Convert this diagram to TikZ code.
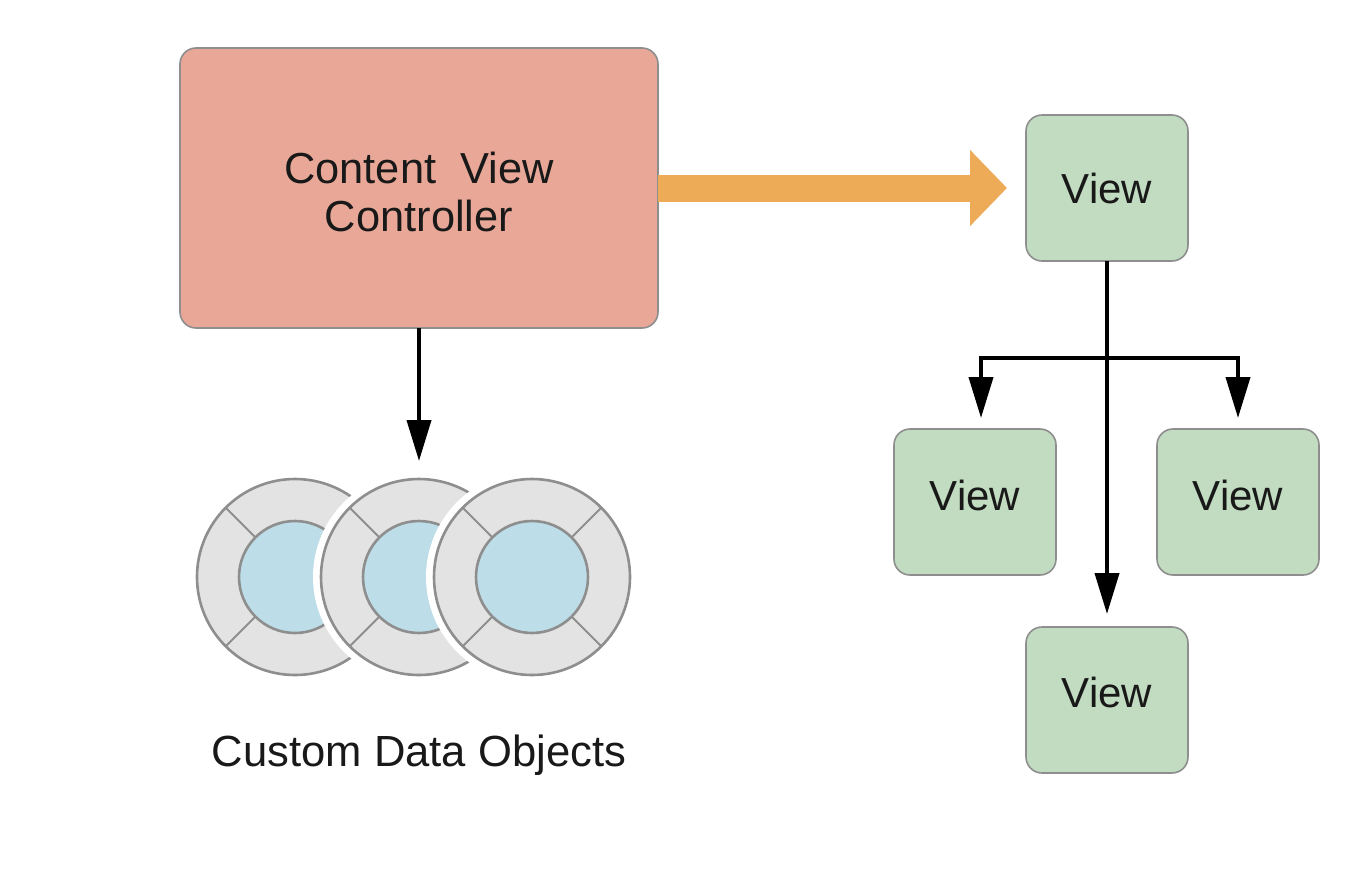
\documentclass[tikz,border=0pt]{standalone}
\usepackage{fontspec}
\setmainfont{Liberation Sans}
\usetikzlibrary{arrows.meta}
\definecolor{ctrlfill}{HTML}{E9A897}
\definecolor{viewfill}{HTML}{C1DCC0}
\definecolor{ringfill}{HTML}{E3E3E3}
\definecolor{corefill}{HTML}{BDDDE9}
\definecolor{edgegray}{HTML}{8E8E8E}
\definecolor{flowcolor}{HTML}{EDAB57}
\tikzset{
	box/.style={draw=edgegray, line width=.8pt, rounded corners=8pt, inner sep=0pt, outer sep=0pt, align=center, text=black!90, font=\fontsize{21}{24}\selectfont},
	viewbox/.style={box, fill=viewfill, minimum width=81pt, minimum height=73pt},
	ring/.style={circle, draw=edgegray, line width=1.3pt, fill=ringfill, minimum size=98pt, inner sep=0pt, outer sep=0pt},
	core/.style={circle, draw=edgegray, line width=1.3pt, fill=corefill, minimum size=56pt, inner sep=0pt, outer sep=0pt},
	link/.style={-{Triangle[length=20.5pt, width=12pt]}, line width=2pt, black},
}
\begin{document}
\begin{tikzpicture}[x=.5pt, y=-.5pt]
	\useasboundingbox (0,0) rectangle (1370,868);
	\node[box, fill=ctrlfill, minimum width=239pt, minimum height=140pt, font=\fontsize{21.7}{24}\selectfont] (ctrl) at (419,188) {\rule{0pt}{19.5pt}Content\ \ View\\Controller};
	\node[viewbox] (viewtop) at (1107,188) {View};
	\node[viewbox] (viewleft) at (975,502) {\raisebox{7pt}{View}};
	\node[viewbox] (viewright) at (1238,502) {\raisebox{7pt}{View}};
	\node[viewbox] (viewbottom) at (1107,700) {\raisebox{8pt}{View}};

	% overlapping data objects, left one first
	\foreach \x/\n in {295/a, 419/b, 532/c}{
		\fill[white] (\x,577) circle (53pt);
		\node[ring] (ring\n) at (\x,577) {};
		\foreach \a in {45,135,225,315}
			\draw[edgegray, line width=1pt] (\x,577) ++(\a:56) -- ++(\a:42);
		\node[core] (core\n) at (\x,577) {};
	}
	\node[font=\fontsize{21.8}{24}\selectfont, text=black!90] (objects) at (419,755) {Custom Data Objects};

	\draw[flowcolor, line width=13.5pt, -{Triangle[length=18.5pt, width=37pt]}, shorten >=9.5pt] (ctrl.east|-viewtop.west) -- (viewtop.west);
	\draw[link, shorten >=9pt] (ctrl.south) -- (ringb.north);
	\draw[link, shorten >=6.5pt] (viewtop.south) -- (viewbottom.north);
	\coordinate (branch) at (viewtop.south|-0,358);
	\draw[link, shorten >=5.5pt] (branch) -| ([xshift=3pt]viewleft.north);
	\draw[link, shorten >=5.5pt] (branch) -| (viewright.north);
\end{tikzpicture}
\end{document}
